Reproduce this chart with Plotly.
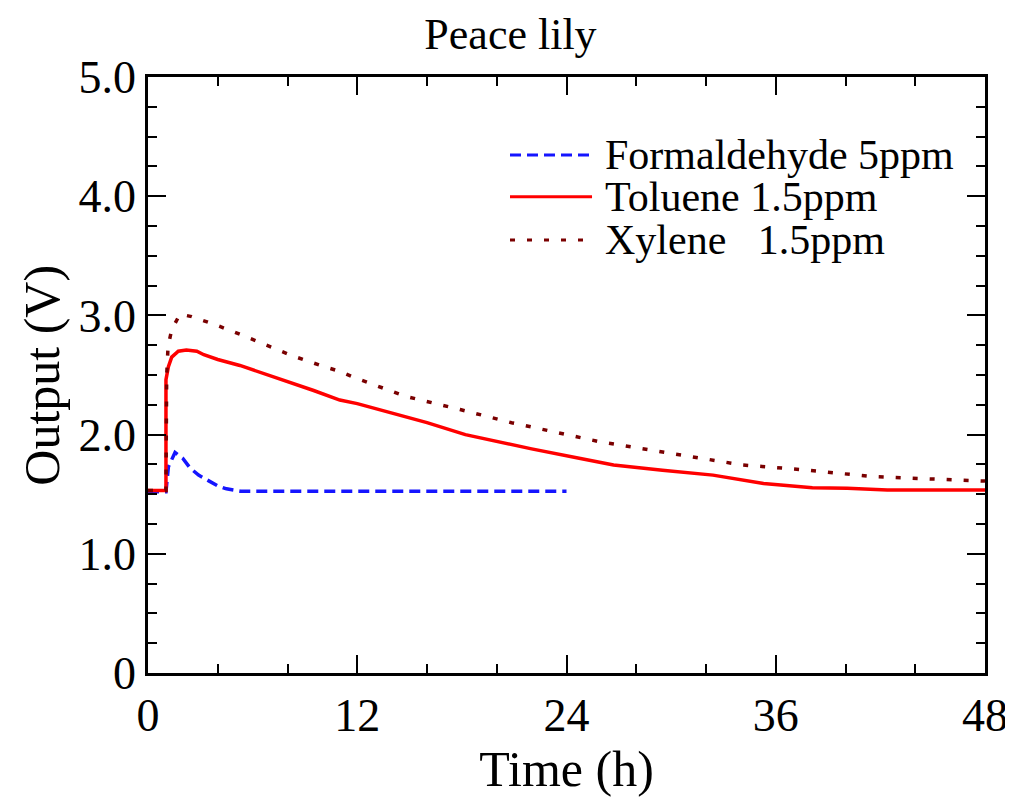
import plotly.graph_objects as go

# ---- data ----
title_text = "Peace lily"
x_title = "Time (h)"
y_title = "Output (V)"

x_tickvals = [0, 12, 24, 36, 48]
x_ticktext = ["0", "12", "24", "36", "48"]
y_tickvals = [0, 1, 2, 3, 4, 5]
y_ticktext = ["0", "1.0", "2.0", "3.0", "4.0", "5.0"]

form_name = "Formaldehyde 5ppm"
form_t = [0, 1.03, 1.17, 1.55, 2.0, 2.41, 2.9, 3.37, 4.0, 4.5, 5.3, 8, 12, 16, 20, 24]
form_v = [1.52, 1.52, 1.73, 1.85, 1.80, 1.72, 1.66, 1.62, 1.57, 1.545, 1.525, 1.525, 1.525, 1.525, 1.525, 1.525]

tol_name = "Toluene 1.5ppm"
tol_t = [0, 1.03, 1.03, 1.17, 1.36, 1.74, 2.2, 2.8, 3.2, 4.0, 5.27, 6.5, 8.14, 9.5, 11.0, 12, 14, 16,
         18.2, 20, 22, 24.8, 26.7, 29.5, 32.4, 35.3, 38.1, 40.1, 42.4, 45, 48]
tol_v = [1.53, 1.53, 2.46, 2.57, 2.65, 2.70, 2.71, 2.70, 2.67, 2.63, 2.58, 2.52, 2.44, 2.37, 2.29, 2.26, 2.18, 2.10,
         2.00, 1.94, 1.88, 1.80, 1.745, 1.70, 1.66, 1.59, 1.555, 1.55, 1.535, 1.535, 1.535]

xyl_name = "Xylene\u00a0\u00a0\u00a01.5ppm"
xyl_t = [0, 1.03, 1.07, 1.15, 1.36, 1.83, 2.5, 3.9, 5.3, 6.8, 8.3, 9.9, 11.0, 11.8, 14.8, 17.9, 20.85,
         24.96, 25.9, 28.0, 31.1, 34.1, 37.2, 41.4, 44.5, 47.5, 48]
xyl_v = [1.53, 1.53, 2.49, 2.74, 2.88, 3.01, 2.99, 2.92, 2.84, 2.75, 2.66, 2.58, 2.53, 2.48, 2.32, 2.21, 2.10,
         1.97, 1.94, 1.89, 1.82, 1.745, 1.71, 1.65, 1.63, 1.61, 1.61]

FONT = "Liberation Serif"
BLUE = "#1515ff"
RED = "#ff0000"
DRED = "#7a0000"

series = [
    (form_name, form_t, form_v, dict(color=BLUE, width=3.5, dash="11px,6px")),
    (tol_name, tol_t, tol_v, dict(color=RED, width=3.5, dash="solid")),
    (xyl_name, xyl_t, xyl_v, dict(color=DRED, width=3.5, dash="5px,12px")),
]

fig = go.Figure()
for name, t, v, ln in series:
    fig.add_trace(go.Scatter(x=t, y=v, mode="lines", name=name, line=ln, showlegend=False))

# custom legend (paper coordinates)
leg_rows_y = [0.869, 0.799, 0.7265]
for (name, t, v, ln), yy in zip(series, leg_rows_y):
    fig.add_shape(type="line", xref="paper", yref="paper", x0=0.4325, x1=0.5305, y0=yy, y1=yy,
                  line=dict(color=ln["color"], width=3, dash=ln["dash"]))
    fig.add_annotation(text=name, xref="paper", yref="paper", x=0.5436, y=yy, xanchor="left",
                       yanchor="middle", showarrow=False, font=dict(family=FONT, size=42, color="black"))

# y-axis title as rotated text
fig.add_annotation(text=y_title, xref="paper", yref="paper", x=-0.127, y=0.5, xanchor="center",
                   yanchor="middle", textangle=-90, showarrow=False,
                   font=dict(family=FONT, size=50, color="black"))

axis_common = dict(
    showline=True, linecolor="black", linewidth=2.5, mirror="allticks",
    ticks="inside", ticklen=18, tickwidth=2, tickcolor="black",
    showgrid=False, zeroline=False, automargin=False,
    tickfont=dict(family=FONT, size=46, color="black"),
)

fig.update_xaxes(range=[0, 48], tickvals=x_tickvals, ticktext=x_ticktext,
                 minor=dict(ticks="inside", ticklen=9, tickwidth=2, tickcolor="black", dtick=4, showgrid=False),
                 title=dict(text=x_title, font=dict(family=FONT, size=50, color="black"), standoff=11),
                 **axis_common)
fig.update_yaxes(range=[0, 5], tickvals=y_tickvals, ticktext=y_ticktext,
                 minor=dict(ticks="inside", ticklen=9, tickwidth=2, tickcolor="black", dtick=0.25, showgrid=False),
                 **axis_common)

# page body adds ~8px offset; size figure to fit window exactly
fig.update_layout(
    width=1005, height=792,
    margin=dict(l=140, r=28, t=69, b=127, autoexpand=False),
    paper_bgcolor="white", plot_bgcolor="white",
    title=dict(text=title_text, x=0.5, xanchor="center", y=0.968, yanchor="middle",
               font=dict(family=FONT, size=44, color="black")),
    font=dict(family=FONT, color="black"),
)

fig.write_html("out.html")
